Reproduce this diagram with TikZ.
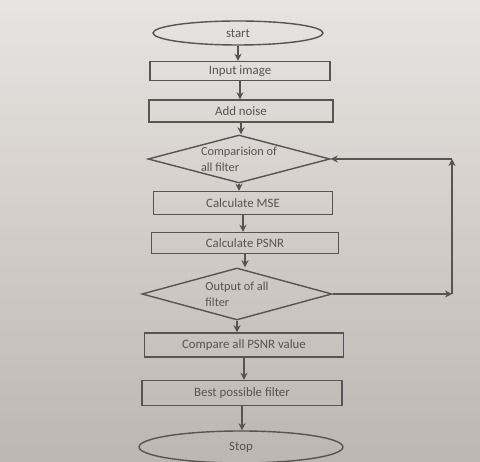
\documentclass[tikz,border=0pt]{standalone}
\usepackage{fontspec}
\setmainfont{Carlito}
\usetikzlibrary{shapes.geometric,arrows.meta}
\definecolor{paper}{RGB}{214,210,206}
\definecolor{paperdark}{RGB}{190,182,176}
\definecolor{ink}{RGB}{88,84,84}
\tikzset{
  box/.style={draw=ink, thick, rectangle, inner sep=0pt, font=\fontsize{7.3}{8}\selectfont, text=ink},
  oval/.style={draw=ink, thick, ellipse, inner sep=0pt, font=\fontsize{7.3}{8}\selectfont, text=ink},
  choice/.style={draw=ink, thick, diamond, aspect=3.7, inner sep=0pt, align=left, font=\fontsize{7}{9}\selectfont, text=ink},
  flow/.style={draw=ink, thick, -{Stealth[length=4pt,width=4pt]}}
}
\begin{document}
\begin{tikzpicture}
				\useasboundingbox (0, 0) rectangle (9.6, 9.24);
				\fill[top color=paper!60!white, bottom color=paperdark] (0, 0) rectangle (9.6, 9.24);
				\node[oval, minimum width=3.4cm, minimum height=0.48cm] (start) at (4.76, 8.58) {start};
				\node[box, minimum width=3.6cm, minimum height=0.38cm] (input) at (4.80, 7.82) {Input image};
				\node[box, minimum width=3.68cm, minimum height=0.44cm] (noise) at (4.82, 7.02) {Add noise};
				\node[choice, minimum width=3.64cm, minimum height=0.96cm] (compfilter) at (4.78, 6.06) {Comparision of\\all filter};
				\node[box, minimum width=3.58cm, minimum height=0.46cm] (mse) at (4.86, 5.18) {Calculate MSE};
				\node[box, minimum width=3.74cm, minimum height=0.42cm] (psnr) at (4.90, 4.38) {Calculate PSNR};
				\node[choice, minimum width=3.8cm, minimum height=1.04cm] (outfilter) at (4.74, 3.36) {Output of all\\filter};
				\node[box, minimum width=3.98cm, minimum height=0.48cm] (compare) at (4.88, 2.34) {Compare all PSNR value};
				\node[box, minimum width=4.0cm, minimum height=0.5cm] (best) at (4.84, 1.38) {Best possible filter};
				\node[oval, minimum width=4.08cm, minimum height=0.64cm] (stop) at (4.82, 0.30) {Stop};
				\coordinate (loopa) at (9.04, 3.36);
				\coordinate (loopb) at (9.04, 6.06);
				\foreach \a/\b in {start/input, input/noise, noise/compfilter, compfilter/mse, mse/psnr, psnr/outfilter, outfilter/compare, compare/best, best/stop}
				\draw[flow] (\a.south) -- (\a.south |- \b.north);
				\draw[flow] (outfilter.east) -- (loopa);
				\draw[flow] (loopa) -- (loopb);
				\draw[flow] (loopb) -- (compfilter.east);
			\end{tikzpicture}
\end{document}
